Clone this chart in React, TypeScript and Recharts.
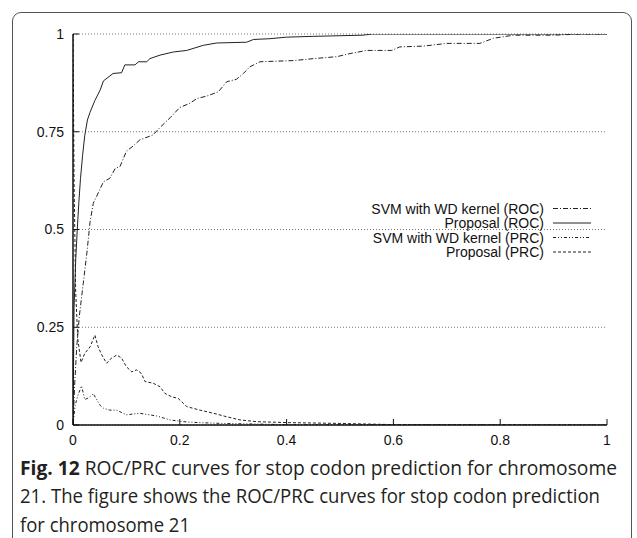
import React from "react";
import { LineChart, Line, XAxis, YAxis, CartesianGrid, Legend } from "recharts";

const xTicks = [0, 0.2, 0.4, 0.6, 0.8, 1];
const yTicks = [0, 0.25, 0.5, 0.75, 1];
const seriesNames = [
  "SVM with WD kernel (ROC)",
  "Proposal (ROC)",
  "SVM with WD kernel (PRC)",
  "Proposal (PRC)",
];
const captionLabel = "Fig. 12";
const captionLines = [
  "ROC/PRC curves for stop codon prediction for chromosome",
  "21. The figure shows the ROC/PRC curves for stop codon prediction",
  "for chromosome 21",
];

const svmRoc = [
  [0, 0], [0.003, 0.1], [0.007, 0.2], [0.012, 0.28], [0.019, 0.36], [0.026, 0.44], [0.032, 0.52],
  [0.038, 0.567], [0.044, 0.584], [0.057, 0.622], [0.069, 0.631], [0.079, 0.656], [0.088, 0.661],
  [0.1, 0.7], [0.113, 0.714], [0.125, 0.729], [0.15, 0.742], [0.163, 0.761], [0.182, 0.786],
  [0.2, 0.812], [0.219, 0.823], [0.232, 0.835], [0.25, 0.841], [0.272, 0.852], [0.288, 0.878],
  [0.306, 0.884], [0.319, 0.899], [0.331, 0.916], [0.35, 0.929], [0.413, 0.932], [0.45, 0.937],
  [0.494, 0.942], [0.519, 0.95], [0.55, 0.958], [0.597, 0.958], [0.612, 0.967], [0.656, 0.969],
  [0.7, 0.976], [0.762, 0.976], [0.787, 0.989], [0.825, 0.997], [0.9, 0.997], [0.95, 1], [1, 1],
];

const propRoc = [
  [0, 0], [0.002, 0.3], [0.005, 0.42], [0.008, 0.5], [0.011, 0.57], [0.014, 0.63], [0.018, 0.69],
  [0.022, 0.74], [0.027, 0.78], [0.032, 0.8], [0.041, 0.83], [0.051, 0.857], [0.057, 0.88],
  [0.075, 0.899], [0.091, 0.901], [0.097, 0.921], [0.116, 0.921], [0.123, 0.929], [0.138, 0.929],
  [0.144, 0.937], [0.163, 0.946], [0.188, 0.954], [0.213, 0.958], [0.244, 0.971], [0.269, 0.977],
  [0.325, 0.979], [0.338, 0.986], [0.369, 0.988], [0.4, 0.992], [0.45, 0.994], [0.543, 0.997],
  [0.56, 1], [1, 1],
];

const svmPrc = [
  [0, 0], [0.004, 0.05], [0.009, 0.075], [0.016, 0.1], [0.022, 0.065], [0.03, 0.07], [0.038, 0.08],
  [0.044, 0.066], [0.051, 0.05], [0.057, 0.043], [0.069, 0.038], [0.082, 0.038], [0.1, 0.026],
  [0.125, 0.03], [0.157, 0.023], [0.182, 0.013], [0.206, 0.0085], [0.238, 0.006], [0.281, 0.004],
  [0.4, 0.001], [1, 0],
];

const propPrc = [
  [0, 1], [0.002, 0.62], [0.005, 0.34], [0.009, 0.22], [0.015, 0.16], [0.022, 0.183], [0.032, 0.2],
  [0.041, 0.23], [0.047, 0.2], [0.054, 0.179], [0.063, 0.158], [0.072, 0.171], [0.082, 0.179],
  [0.091, 0.171], [0.1, 0.149], [0.11, 0.136], [0.119, 0.141], [0.128, 0.132], [0.135, 0.111],
  [0.15, 0.107], [0.163, 0.098], [0.172, 0.081], [0.185, 0.072], [0.197, 0.068], [0.213, 0.047],
  [0.238, 0.038], [0.263, 0.03], [0.288, 0.021], [0.313, 0.013], [0.344, 0.0085], [0.406, 0.006],
  [0.5, 0.004], [0.6, 0.001], [1, 0],
];

const toPts = (a: number[][]) => a.map(([x, y]) => ({ x, y }));

const series = [
  { name: seriesNames[0], data: toPts(svmRoc), dash: "5 2 1 2" },
  { name: seriesNames[1], data: toPts(propRoc), dash: undefined as string | undefined },
  { name: seriesNames[2], data: toPts(svmPrc), dash: "3 2 1 2 1 2" },
  { name: seriesNames[3], data: toPts(propPrc), dash: "3 2" },
];

const FONT = "'Liberation Sans', Arial, Helvetica, sans-serif";
const CAPFONT = "'Open Sans', 'Noto Sans', sans-serif";
const LINE = "#222";

const renderLegend = () => (
  <svg width={260} height={64} style={{ display: "block" }}>
    {series.map((s, i) => {
      const cy = 8.5 + i * 14.5;
      return (
        <g key={s.name}>
          <text x={184} y={cy} textAnchor="end" dominantBaseline="central" fontFamily={FONT} fontSize={14} fill="#111">
            {s.name}
          </text>
          <line x1={193} x2={231} y1={cy} y2={cy} stroke={LINE} strokeWidth={1} strokeDasharray={s.dash} />
        </g>
      );
    })}
  </svg>
);

const hiddenTick = () => <g />;

export default function App() {
  return (
    <div style={{ position: "absolute", left: 0, top: 0, width: 637, height: 538, background: "#fff", overflow: "hidden" }}>
      <div
        style={{
          position: "absolute", left: 12, top: 12, width: 620, height: 560,
          border: "1px solid #555", borderRadius: 9, boxSizing: "border-box",
        }}
      />
      <div style={{ position: "absolute", left: 0, top: 0 }}>
        <LineChart width={637} height={460} margin={{ top: 34, right: 30, bottom: 5, left: 33 }}>
          <CartesianGrid vertical={false} stroke="#777" strokeDasharray="1 2" />
          <XAxis
            dataKey="x" type="number" domain={[0, 1]} ticks={xTicks} allowDataOverflow
            height={30} tickSize={-6} tickMargin={16}
            axisLine={{ stroke: "#111", strokeWidth: 1.5 }} tickLine={{ stroke: "#111" }}
            tick={{ fontFamily: FONT, fontSize: 14, fill: "#111" }}
            tickFormatter={(v: number) => String(v)}
          />
          <XAxis
            xAxisId="top" orientation="top" dataKey="x" type="number" domain={[0, 1]} ticks={xTicks}
            height={0} tickSize={-6} axisLine={{ stroke: "#111", strokeWidth: 1.5 }} tickLine={{ stroke: "#111" }}
            tick={hiddenTick}
          />
          <YAxis
            type="number" domain={[0, 1]} ticks={yTicks} allowDataOverflow width={40}
            tickSize={-6} tickMargin={15}
            axisLine={{ stroke: "#111", strokeWidth: 1.5 }} tickLine={{ stroke: "#111" }}
            tick={{ fontFamily: FONT, fontSize: 14, fill: "#111" }}
            tickFormatter={(v: number) => String(v)}
          />
          <YAxis
            yAxisId="right" orientation="right" type="number" domain={[0, 1]} ticks={yTicks}
            width={0} tickSize={-6} axisLine={{ stroke: "#111", strokeWidth: 1.5 }} tickLine={{ stroke: "#111" }}
            tick={hiddenTick}
          />
          <Legend
            layout="horizontal" verticalAlign="middle" align="center"
            content={renderLegend}
            wrapperStyle={{ left: 360, top: 200, width: 260, height: 64 }}
          />
          {series.map((s) => (
            <Line
              key={s.name} name={s.name} data={s.data} dataKey="y" type="linear"
              stroke={LINE} strokeWidth={1} strokeDasharray={s.dash} dot={false}
              activeDot={false} isAnimationActive={false} legendType="none"
            />
          ))}
        </LineChart>
      </div>
      <svg width={637} height={90} style={{ position: "absolute", left: 0, top: 448 }}>
        <g fontFamily={CAPFONT} fontSize={19.3} fill="#231f20">
          <text x={20} y={26.5} textLength={597} lengthAdjust="spacingAndGlyphs">
            <tspan fontWeight="bold">{captionLabel}</tspan> {captionLines[0]}
          </text>
          <text x={20} y={55} textLength={580} lengthAdjust="spacingAndGlyphs">
            {captionLines[1]}
          </text>
          <text x={20} y={83.5} textLength={170} lengthAdjust="spacingAndGlyphs">
            {captionLines[2]}
          </text>
        </g>
      </svg>
    </div>
  );
}
